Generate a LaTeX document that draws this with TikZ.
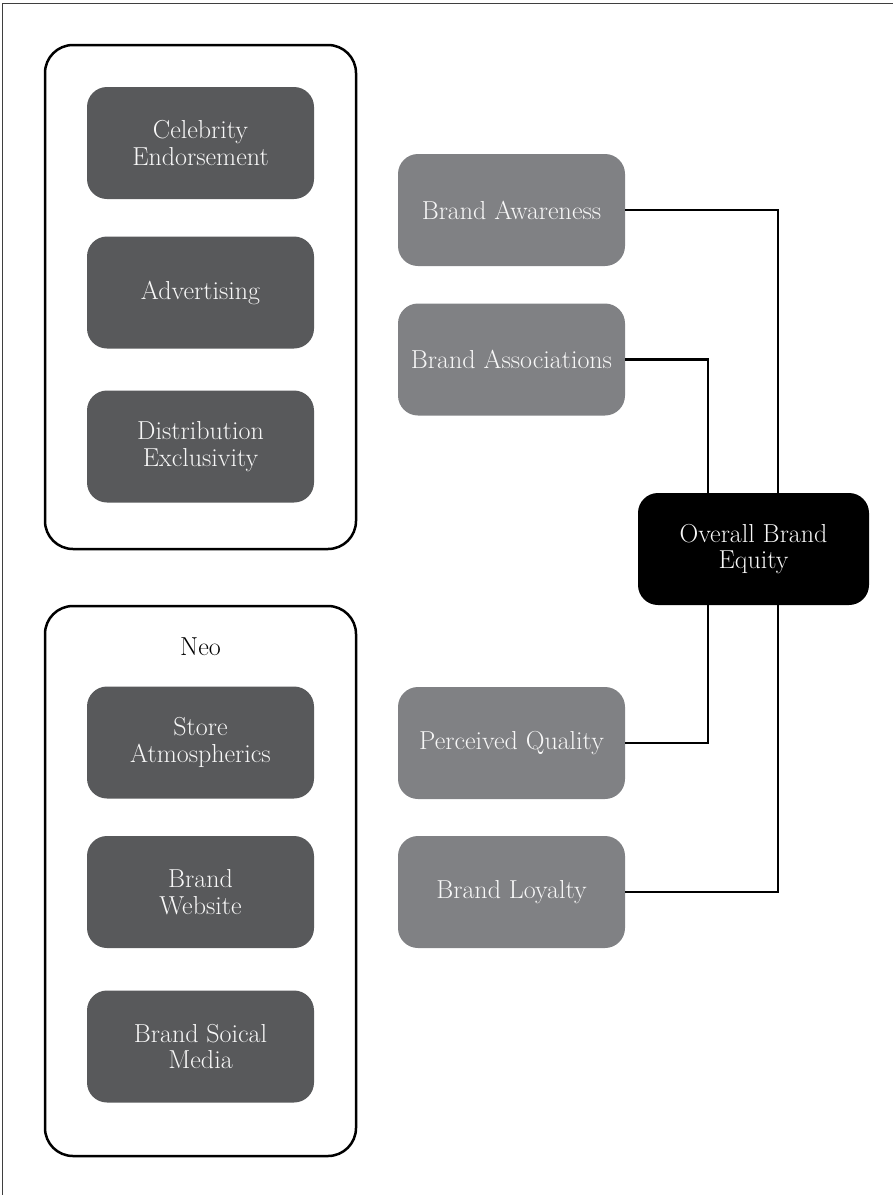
\documentclass[tikz,border=0pt]{standalone}
\usetikzlibrary{positioning}
\definecolor{darkbox}{HTML}{58595B}
\definecolor{graybox}{HTML}{808184}
\definecolor{frameline}{HTML}{3F3F3F}
\definecolor{boxtext}{HTML}{F7F7F7}
\tikzset{
  base/.style={rectangle, rounded corners=20pt, text=boxtext, align=center,
    font=\fontsize{26}{26.5}\selectfont, inner sep=0pt},
  darknode/.style={base, fill=darkbox, minimum width=227pt, minimum height=112pt},
  graynode/.style={base, fill=graybox, minimum width=227pt, minimum height=112pt},
  eqnode/.style={base, fill=black, minimum width=231pt, minimum height=112pt},
  group/.style={draw=black, line width=2.5pt, rounded corners=28pt},
  conn/.style={draw=black, line width=2.5pt},
}
\begin{document}
\begin{tikzpicture}[x=1pt,y=-1pt]
\useasboundingbox (0,0) rectangle (893,1195);
% outer frame (top and left only)
\draw[frameline, line width=1.8pt] (2.5,1195) -- (2.5,3.5) -- (893,3.5);
% group boxes
\draw[group] (45,45) rectangle (356,549);
\draw[group] (45,606) rectangle (356,1156);
\node[font=\fontsize{26}{26.5}\selectfont, text=black] (neo) at (200.5,647) {Neo};
% left column
\node[darknode] (ce) at (200.5,143) {Celebrity\\Endorsement};
\node[darknode] (ad) at (200.5,292.5) {Advertising};
\node[darknode] (de) at (200.5,446.5) {Distribution\\Exclusivity};
\node[darknode] (sa) at (200.5,742.5) {Store\\Atmospherics};
\node[darknode] (bw) at (200.5,892) {Brand\\Website};
\node[darknode] (bs) at (200.5,1046.5) {Brand Soical\\Media};
% right column
\node[graynode] (aw) at (511.5,210) {Brand Awareness};
\node[graynode] (as) at (511.5,359.5) {Brand Associations};
\node[graynode] (pq) at (511.5,743) {Perceived Quality};
\node[graynode] (bl) at (511.5,892) {Brand Loyalty};
\node[eqnode] (eq) at (753.5,549) {Overall Brand\\Equity};
% connectors
\draw[conn] (aw.east) -| ([xshift=24.5pt]eq.north);
\draw[conn] (as.east) -| ([xshift=-45.5pt]eq.north);
\draw[conn] (pq.east) -| ([xshift=-45.5pt]eq.south);
\draw[conn] (bl.east) -| ([xshift=24.5pt]eq.south);
\end{tikzpicture}
\end{document}
